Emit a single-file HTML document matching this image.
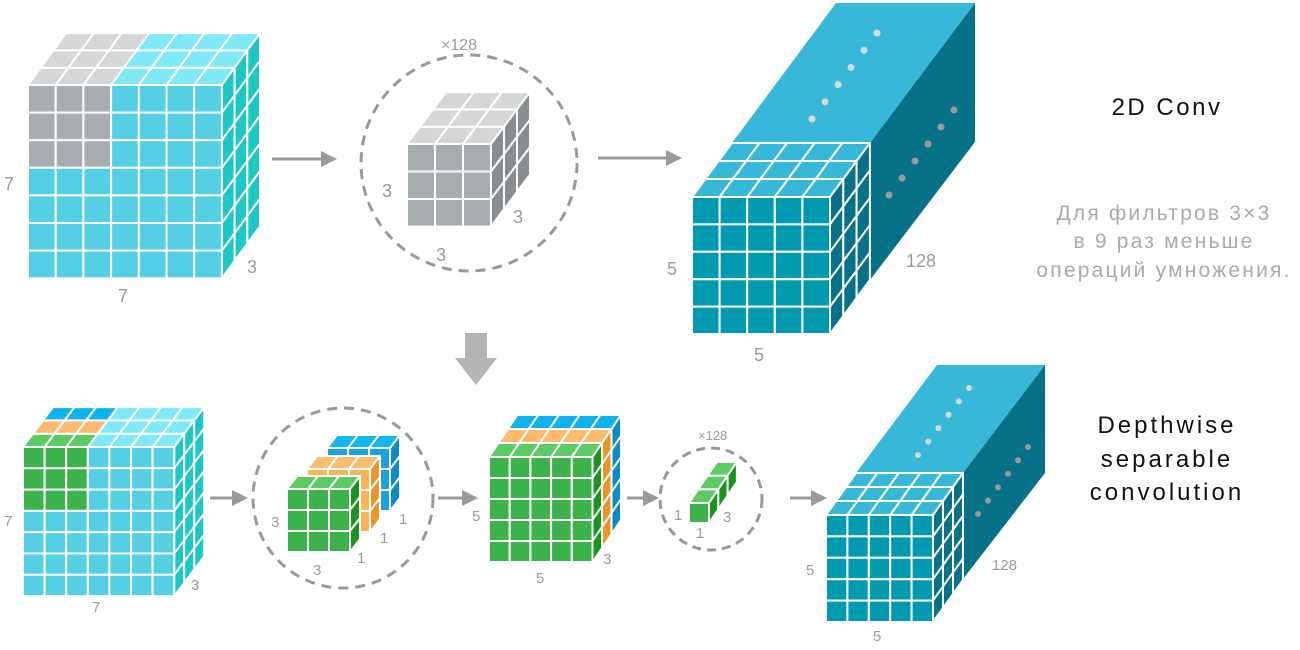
<!DOCTYPE html>
<html><head><meta charset="utf-8"><style>
html,body{margin:0;padding:0;background:#fff;width:1300px;height:650px;overflow:hidden}
svg{display:block}
text{font-family:"Liberation Sans",sans-serif}
</style></head><body>
<svg id="s" width="1300" height="650" viewBox="0 0 1300 650" xmlns="http://www.w3.org/2000/svg">
<g id="g"></g>
<g fill="#9a9a9a" font-size="18">
<text x="4" y="190">7</text>
<text x="118" y="302">7</text>
<text x="247" y="273">3</text>
<text x="382" y="197">3</text>
<text x="513" y="223">3</text>
<text x="436" y="261">3</text>
<text x="441" y="50" font-size="16">×128</text>
<text x="667" y="275">5</text>
<text x="754" y="361">5</text>
<text x="906" y="267">128</text>
</g>
<g fill="#9a9a9a" font-size="15">
<text x="4" y="526">7</text>
<text x="92" y="612">7</text>
<text x="191" y="590">3</text>
<text x="271" y="527">3</text>
<text x="313" y="575">3</text>
<text x="357" y="563">1</text>
<text x="380" y="543">1</text>
<text x="399" y="524">1</text>
<text x="472" y="521">5</text>
<text x="536" y="583">5</text>
<text x="603" y="564">3</text>
<text x="698" y="440" font-size="13">×128</text>
<text x="674" y="520">1</text>
<text x="696" y="538">1</text>
<text x="723" y="522">3</text>
<text x="806" y="575">5</text>
<text x="873" y="641">5</text>
<text x="992" y="570">128</text>
</g>
<text x="1167" y="115" font-size="24" letter-spacing="2.5" text-anchor="middle" fill="#111">2D Conv</text>
<g fill="#aaa" font-size="21" letter-spacing="2.2" text-anchor="middle">
<text x="1164" y="220">Для фильтров 3×3</text>
<text x="1164" y="248">в 9 раз меньше</text>
<text x="1164" y="277">операций умножения.</text>
</g>
<g fill="#111" font-size="24" letter-spacing="3" text-anchor="middle">
<text x="1167" y="433">Depthwise</text>
<text x="1167" y="467">separable</text>
<text x="1167" y="500">convolution</text>
</g>
</svg>
<script>
var g=document.getElementById('g');var NS='http://www.w3.org/2000/svg';
function el(t,a){var e=document.createElementNS(NS,t);for(var k in a)e.setAttribute(k,a[k]);g.appendChild(e);return e;}
function poly(pts,fill,stroke){el('polygon',{points:pts.map(function(p){return p[0].toFixed(1)+','+p[1].toFixed(1)}).join(' '),fill:fill,stroke:stroke||'#fff','stroke-width':stroke==='none'?0:2,'stroke-linejoin':'round'});}
function cube(o){
 var x=o.x,y=o.y,cw=o.cw,ch=o.ch,C=o.cols,R=o.rows,D=o.depth,dx=o.dx,dy=o.dy;
 for(var d=0;d<D;d++)for(var c=0;c<C;c++){
  var P=function(c,d){return [x+c*cw+d*dx,y+d*dy]};
  poly([P(c,d),P(c+1,d),P(c+1,d+1),P(c,d+1)],o.top(d,c));}
 for(var r=0;r<R;r++)for(var d=0;d<D;d++){
  var Q=function(r,d){return [x+C*cw+d*dx,y+r*ch+d*dy]};
  poly([Q(r,d),Q(r,d+1),Q(r+1,d+1),Q(r+1,d)],o.side(r,d));}
 for(var r=0;r<R;r++)for(var c=0;c<C;c++){
  poly([[x+c*cw,y+r*ch],[x+(c+1)*cw,y+r*ch],[x+(c+1)*cw,y+(r+1)*ch],[x+c*cw,y+(r+1)*ch]],o.front(r,c));}
}
function arrow(x1,x2,y){el('line',{x1:x1,y1:y,x2:x2-12,y2:y,stroke:'#999','stroke-width':3});
 poly([[x2,y],[x2-16,y-8],[x2-16,y+8]],'#999','none');}
function dots(x1,y1,x2,y2,n,col,r){for(var i=0;i<n;i++){el('circle',{cx:x1+(x2-x1)*i/(n-1),cy:y1+(y2-y1)*i/(n-1),r:r,fill:col});}}
cube({x:28,y:85,cw:27.7,ch:27.6,cols:7,rows:7,depth:3,dx:12.7,dy:-17.3,
 top:function(d,c){return c<3?'#d4d6d8':'#7fe9f7'},side:function(){return '#1cc7c4'},
 front:function(r,c){return (r<3&&c<3)?'#a8adb0':'#54cfe4'}});
arrow(272,337,159);
el('circle',{cx:469,cy:163,r:108,fill:'none',stroke:'#999','stroke-width':3,'stroke-dasharray':'10 7'});
cube({x:407,y:144,cw:28,ch:27.5,cols:3,rows:3,depth:3,dx:13,dy:-17.3,
 top:function(){return '#d4d6d8'},side:function(){return '#8a8d8f'},front:function(){return '#a7acaf'}});
arrow(598,682,158);
poly([[732,143],[836,3],[975,3],[870,143]],'#38b8d8','none');
poly([[870,143],[975,3],[975,142],[870,280]],'#077188','none');
dots(812,119,877,33,6,'#d9d9d9',3.5);
dots(889,195,954,110,6,'#9a9a9a',3.5);
cube({x:692,y:197,cw:27.6,ch:27.4,cols:5,rows:5,depth:3,dx:13.3,dy:-18,
 top:function(){return '#38b8d8'},side:function(){return '#077188'},front:function(){return '#0099b0'}});
poly([[465,333],[487,333],[487,358],[497,358],[476,385],[455,358],[465,358]],'#b5b5b5','none');
var tc=['#5ccb63','#fdb96e','#0eb3ee'];
cube({x:23,y:447,cw:21.6,ch:21.3,cols:7,rows:7,depth:3,dx:10,dy:-13.3,
 top:function(d,c){return c<3?tc[d]:'#7fe9f7'},side:function(){return '#1cc7c4'},
 front:function(r,c){return (r<3&&c<3)?'#3bb34a':'#54cfe4'}});
arrow(210,248,498);
el('circle',{cx:343,cy:498,r:90,fill:'none',stroke:'#999','stroke-width':3,'stroke-dasharray':'10 7'});
var sl=[[327,448,'#1aa3e0','#11b8f0','#0a8cc8'],[307,469,'#f9b456','#fdbd70','#e99527'],[287,489,'#3bb34a','#5ccb63','#1a9420']];
sl.forEach(function(s){cube({x:s[0],y:s[1],cw:21,ch:21,cols:3,rows:3,depth:1,dx:10,dy:-13,
 top:function(){return s[3]},side:function(){return s[4]},front:function(){return s[2]}});});
arrow(438,478,498);
var sc=['#1a9420','#e99527','#0a8cc8'];
cube({x:489,y:457,cw:20.7,ch:21,cols:5,rows:5,depth:3,dx:9.5,dy:-14,
 top:function(d){return tc[d]},side:function(r,d){return sc[d]},front:function(){return '#3bb34a'}});
arrow(627,659,498);
el('circle',{cx:711,cy:499,r:51,fill:'none',stroke:'#999','stroke-width':3,'stroke-dasharray':'9 6'});
cube({x:689,y:503,cw:20,ch:20,cols:1,rows:1,depth:3,dx:9.3,dy:-13.7,
 top:function(){return '#5ccb63'},side:function(){return '#1a9420'},front:function(){return '#3bb34a'}});
arrow(790,827,498);
poly([[856,473],[937,365],[1045,365],[963,473]],'#38b8d8','none');
poly([[963,473],[1045,365],[1045,473],[963,579]],'#077188','none');
dots(918,455,969,388,6,'#d9d9d9',3);
dots(978,514,1028,447,6,'#9a9a9a',3);
cube({x:826,y:515,cw:21.4,ch:21.4,cols:5,rows:5,depth:3,dx:10,dy:-14,
 top:function(){return '#38b8d8'},side:function(){return '#077188'},front:function(){return '#0099b0'}});
</script>
</body></html>
